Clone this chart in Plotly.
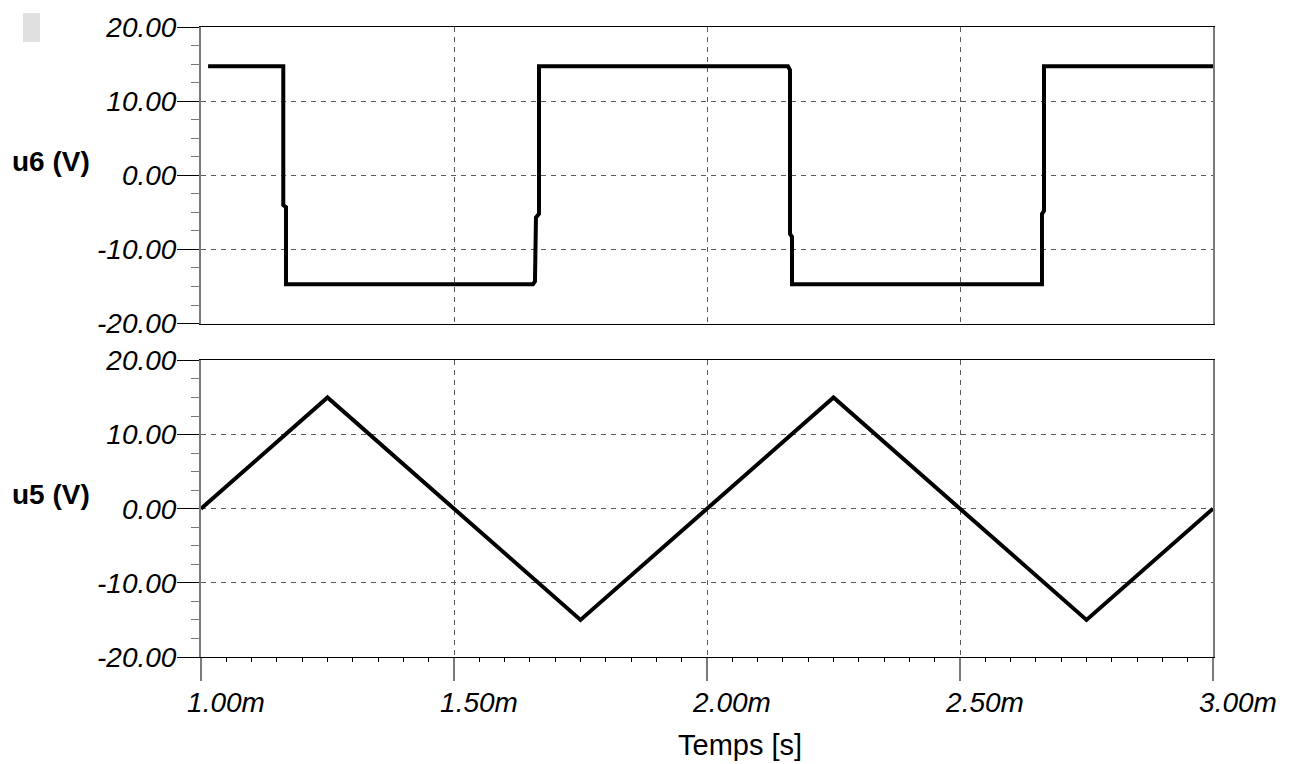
import plotly.graph_objects as go

# ---- data (time in seconds, voltage in V) ----
t_u6 = [1.014e-3, 1.1626e-3, 1.1626e-3, 1.168e-3, 1.168e-3,
        1.656e-3, 1.660e-3, 1.662e-3, 1.668e-3, 1.668e-3,
        2.160e-3, 2.164e-3, 2.164e-3, 2.168e-3, 2.168e-3,
        2.662e-3, 2.662e-3, 2.666e-3, 2.666e-3, 3.000e-3]
u6 = [14.7, 14.7, -4.0, -4.3, -14.7,
      -14.7, -14.3, -5.7, -5.2, 14.7,
      14.7, 14.2, -7.9, -8.3, -14.7,
      -14.7, -5.2, -4.8, 14.7, 14.7]

t_u5 = [1.00e-3, 1.25e-3, 1.75e-3, 2.25e-3, 2.75e-3, 3.00e-3]
u5 = [0.0, 15.0, -15.0, 15.0, -15.0, 0.0]

y_tickvals = [-20, -10, 0, 10, 20]
y_ticktext = ["-20.00", "-10.00", "0.00", "10.00", "20.00"]
x_tickvals = [1.0e-3, 1.5e-3, 2.0e-3, 2.5e-3, 3.0e-3]
x_ticktext = ["1.00m", "1.50m", "2.00m", "2.50m", "3.00m"]
x_midticks = [1.25e-3, 1.75e-3, 2.25e-3, 2.75e-3]
x_title = "Temps [s]"
y_titles = ["u6 (V)", "u5 (V)"]

FONT = "Liberation Sans, Arial, sans-serif"
GRAY = "#7a7a7a"
GRID = "#5a5a5a"

fig = go.Figure()
fig.add_trace(go.Scatter(x=t_u6, y=u6, mode="lines", xaxis="x", yaxis="y",
                         line=dict(color="black", width=4), showlegend=False,
                         hoverinfo="skip"))
fig.add_trace(go.Scatter(x=t_u5, y=u5, mode="lines", xaxis="x2", yaxis="y2",
                         line=dict(color="black", width=4), showlegend=False,
                         hoverinfo="skip"))

tickfont = dict(family=FONT, size=28, color="black", style="italic")

yax = dict(range=[-20, 20], tickmode="array", tickvals=y_tickvals, ticktext=y_ticktext,
           ticks="outside", ticklen=22, tickcolor="black", tickwidth=1,
           tickfont=tickfont, ticklabelstandoff=-5,
           showline=True, linecolor=GRAY, linewidth=2, mirror=True,
           showgrid=True, gridcolor=GRID, gridwidth=1, griddash="5px,5px",
           zeroline=False, fixedrange=True,
           minor=dict(tickmode="linear", tick0=0, dtick=2.5, ticks="outside",
                      ticklen=8, tickcolor=GRAY, tickwidth=1, showgrid=False))

xax_common = dict(range=[1.0e-3, 3.0e-3], tickmode="array", tickvals=x_tickvals,
                  ticktext=x_ticktext, showline=True, linecolor="black", linewidth=1,
                  mirror=True, showgrid=True, gridcolor=GRID, gridwidth=1,
                  griddash="5px,5px", zeroline=False, fixedrange=True)

top_dom = [(657 - 322) / 633, 1.0]
bot_dom = [0.0, (657 - 359) / 633]

fig.update_layout(
    width=1292, height=764,
    margin=dict(l=201, r=79, t=24, b=107),
    paper_bgcolor="white", plot_bgcolor="white",
    showlegend=False,
    xaxis=dict(**xax_common, anchor="y", matches="x2", showticklabels=False, ticks=""),
    xaxis2=dict(**xax_common, anchor="y2", ticks="outside", ticklen=23,
                tickcolor=GRAY, tickwidth=2, tickfont=tickfont,
                ticklabelshift=25, ticklabelstandoff=-3,
                minor=dict(tickmode="linear", tick0=1.0e-3, dtick=0.05e-3,
                           ticks="outside", ticklen=4, tickcolor="black",
                           tickwidth=1, showgrid=False)),
    xaxis3=dict(range=[1.0e-3, 3.0e-3], overlaying="x2", anchor="y2", side="bottom",
                tickmode="array", tickvals=x_midticks, ticks="outside", ticklen=13,
                tickcolor=GRAY, tickwidth=2, showticklabels=False, showgrid=False,
                showline=False, zeroline=False, fixedrange=True),
    yaxis=dict(**yax, domain=top_dom, anchor="x"),
    yaxis2=dict(**yax, domain=bot_dom, anchor="x2"),
)

# axis titles
for yref, txt in (("y", y_titles[0]), ("y2", y_titles[1])):
    fig.add_annotation(text="<b>" + txt + "</b>", xref="paper", yref=yref,
                       x=0, y=0, xshift=-150, yshift=14, xanchor="center",
                       yanchor="middle", showarrow=False,
                       font=dict(family=FONT, size=28, color="black"))
fig.add_annotation(text=x_title, xref="paper", yref="paper",
                   x=(739.5 - 201) / 1012, y=(657 - 745) / 633,
                   xanchor="center", yanchor="middle", showarrow=False,
                   font=dict(family=FONT, size=29, color="black"))

# small gray marker box at top-left
fig.add_shape(type="rect", xref="paper", yref="paper",
              xsizemode="pixel", ysizemode="pixel", xanchor=0, yanchor=1,
              x0=-178, x1=-161, y0=14, y1=-15,
              fillcolor="#e0e0e0", line=dict(width=0))

fig.write_html("out.html", config={"displayModeBar": False},
               post_script="document.body.style.margin='0';"
                           "document.body.style.overflow='hidden';")
